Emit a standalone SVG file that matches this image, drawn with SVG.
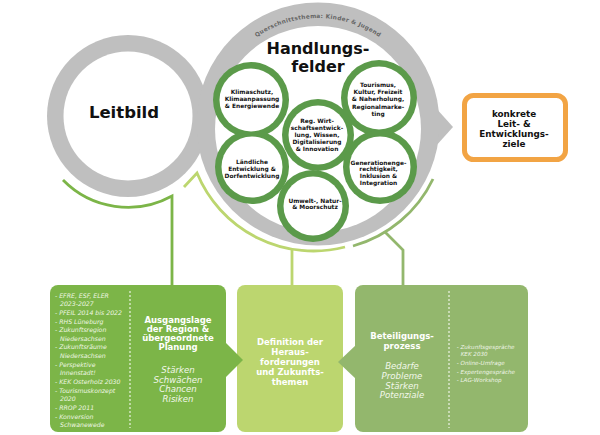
<svg xmlns="http://www.w3.org/2000/svg" width="600" height="435" viewBox="0 0 600 435">
<style>
.gray{fill:#bfbfbf}
.white{fill:#ffffff}
.ring{fill:#5b9a4a}
.ct{font-family:"DejaVu Sans",Verdana,sans-serif;font-weight:bold;font-size:5.9px;fill:#111;text-anchor:middle}
.big{font-family:"DejaVu Sans",Verdana,sans-serif;font-weight:bold;fill:#111;text-anchor:middle}
.bt{font-family:"DejaVu Sans",Verdana,sans-serif;font-weight:bold;font-size:8.5px;fill:#ffffff;text-anchor:middle}
.it{font-family:"DejaVu Sans",Verdana,sans-serif;font-style:italic;font-size:8.6px;fill:#f2f7ea;text-anchor:middle}
.ls{font-family:"DejaVu Sans",Verdana,sans-serif;font-style:italic;font-size:6.2px;fill:#eef6e2}
.rs{font-family:"DejaVu Sans",Verdana,sans-serif;font-style:italic;font-size:5.6px;fill:#eef4e6}
.dash{stroke:#ffffff;stroke-width:1;stroke-dasharray:2 2;fill:none}
.con{fill:none;stroke-width:2.8;stroke-linecap:butt;stroke-linejoin:miter}
</style>
<defs>
<path id="ringTextPath" d="M 210 126 A 108 108 0 0 1 426 126"/>
</defs>
<rect width="600" height="435" fill="#ffffff"/>

<g id="connectors">
<path class="con" stroke="#7cb548" d="M 63 180 A 91 91 0 0 0 172 196 L 172 286"/>
<path class="con" stroke="#bcd66f" d="M 184 187 L 197 173 A 126 126 0 0 0 345 247"/>
<path class="con" stroke="#bcd66f" d="M 292 249 L 292 286"/>
<path class="con" stroke="#93b76d" d="M 353 246 A 126 126 0 0 0 433 179"/>
<path class="con" stroke="#93b76d" d="M 385 232 L 403 250 L 403 286"/>
</g>

<g id="leitbild">
<circle class="gray" cx="128" cy="116" r="81"/>
<circle class="white" cx="128" cy="116" r="64.5"/>
<text class="big" x="124" y="117.5" font-size="16.5">Leitbild</text>
</g>

<g id="handlungsfelder">
<polygon class="gray" points="426,97 453,127 426,157"/>
<circle class="gray" cx="318" cy="124" r="121.5"/>
<circle class="white" cx="318" cy="129" r="103"/>
<text font-family="'DejaVu Sans',Verdana,sans-serif" font-weight="bold" font-size="5.8" fill="#666666" letter-spacing="0.3"><textPath href="#ringTextPath" startOffset="50%" text-anchor="middle">Querschnittsthema: Kinder &amp; Jugend</textPath></text>
<text class="big" x="318" y="53.5" font-size="16">Handlungs-</text>
<text class="big" x="318" y="71.5" font-size="16">felder</text>
</g>

<g id="circles-base">
<circle class="ring" cx="251" cy="100" r="38"/>
<circle class="ring" cx="379" cy="98" r="38"/>
<circle class="ring" cx="318" cy="135" r="36"/>
<circle class="ring" cx="252" cy="167" r="37"/>
<circle class="ring" cx="380" cy="167" r="37"/>
<circle class="ring" cx="313" cy="206" r="36"/>
</g>

<g id="hf-klimaschutz">
<circle class="white" cx="251" cy="100" r="31.5"/>
<text class="ct" x="252" y="93.7">Klimaschutz,</text>
<text class="ct" x="252" y="100.8">Klimaanpassung</text>
<text class="ct" x="252" y="107.9">&amp; Energiewende</text>
</g>
<g id="hf-tourismus">
<circle class="white" cx="379" cy="98" r="31.5"/>
<text class="ct" x="378" y="87.2">Tourismus,</text>
<text class="ct" x="378" y="94.3">Kultur, Freizeit</text>
<text class="ct" x="378" y="101.4">&amp; Naherholung,</text>
<text class="ct" x="378" y="108.5">Regionalmarke-</text>
<text class="ct" x="378" y="115.6">ting</text>
</g>
<g id="hf-wirtschaft">
<circle class="white" cx="318" cy="135" r="29.5"/>
<text class="ct" x="317" y="122.7">Reg. Wirt-</text>
<text class="ct" x="317" y="129.7">schaftsentwick-</text>
<text class="ct" x="317" y="136.7">lung, Wissen,</text>
<text class="ct" x="317" y="143.7">Digitalisierung</text>
<text class="ct" x="317" y="150.7">&amp; Innovation</text>
</g>
<g id="hf-laendlich">
<circle class="white" cx="252" cy="167" r="30.5"/>
<text class="ct" x="252" y="164.3">Ländliche</text>
<text class="ct" x="252" y="171.1">Entwicklung &amp;</text>
<text class="ct" x="252" y="177.9">Dorfentwicklung</text>
</g>
<g id="hf-generationen">
<circle class="white" cx="380" cy="167" r="30.5"/>
<text class="ct" x="378.5" y="164.7">Generationenge-</text>
<text class="ct" x="378.5" y="171.4">rechtigkeit,</text>
<text class="ct" x="378.5" y="178.1">Inklusion &amp;</text>
<text class="ct" x="378.5" y="184.8">Integration</text>
</g>
<g id="hf-umwelt">
<circle class="white" cx="313" cy="206" r="29.5"/>
<text class="ct" x="315" y="202.5">Umwelt-, Natur-</text>
<text class="ct" x="315" y="209.3">&amp; Moorschutz</text>
</g>

<g id="ziele">
<rect x="464.5" y="95.5" width="101" height="64" rx="9" fill="#ffffff" stroke="#f2a444" stroke-width="5"/>
<text class="big" x="514" y="116.5" font-size="8.8">konkrete</text>
<text class="big" x="514" y="126.5" font-size="8.8">Leit- &amp;</text>
<text class="big" x="514" y="136.5" font-size="8.8">Entwicklungs-</text>
<text class="big" x="514" y="146.5" font-size="8.8">ziele</text>
</g>

<g id="definition">
<rect x="237" y="285" width="106" height="147" rx="8" fill="#bcd66f"/>
<text class="bt" x="290" y="344.7">Definition der</text>
<text class="bt" x="290" y="354.7">Heraus-</text>
<text class="bt" x="290" y="364.7">forderungen</text>
<text class="bt" x="290" y="374.7">und Zukunfts-</text>
<text class="bt" x="290" y="384.7">themen</text>
</g>

<g id="ausgangslage">
<rect x="50" y="285" width="176" height="147" rx="8" fill="#7cb548"/>
<polygon points="224,341 243,360 224,379" fill="#7cb548"/>
<line class="dash" x1="130" y1="291" x2="130" y2="428"/>
<text class="ls" x="55" y="297.5">- EFRE, ESF, ELER</text>
<text class="ls" x="60" y="306.2">2023-2027</text>
<text class="ls" x="55" y="314.8">- PFEIL 2014 bis 2022</text>
<text class="ls" x="55" y="323.5">- RHS Lüneburg</text>
<text class="ls" x="55" y="332.1">- Zukunftsregion</text>
<text class="ls" x="60" y="340.8">Niedersachsen</text>
<text class="ls" x="55" y="349.4">- Zukunftsräume</text>
<text class="ls" x="60" y="358.1">Niedersachsen</text>
<text class="ls" x="55" y="366.7">- Perspektive</text>
<text class="ls" x="60" y="375.4">Innenstadt!</text>
<text class="ls" x="55" y="384">- KEK Osterholz 2030</text>
<text class="ls" x="55" y="392.7">- Tourismuskonzept</text>
<text class="ls" x="60" y="401.3">2020</text>
<text class="ls" x="55" y="410">- RROP 2011</text>
<text class="ls" x="55" y="418.6">- Konversion</text>
<text class="ls" x="60" y="427.3">Schwanewede</text>
<text class="bt" x="178" y="323">Ausgangslage</text>
<text class="bt" x="178" y="332">der Region &amp;</text>
<text class="bt" x="178" y="341">übergeordnete</text>
<text class="bt" x="178" y="350">Planung</text>
<text class="it" x="178" y="373">Stärken</text>
<text class="it" x="178" y="382.5">Schwächen</text>
<text class="it" x="178" y="392">Chancen</text>
<text class="it" x="178" y="401.5">Risiken</text>
</g>

<g id="beteiligung">
<rect x="355" y="285" width="173" height="147" rx="8" fill="#93b76d"/>
<polygon points="356,345 338,362 356,379" fill="#93b76d"/>
<line class="dash" x1="449" y1="291" x2="449" y2="428"/>
<text class="bt" x="402" y="339">Beteiligungs-</text>
<text class="bt" x="402" y="348.7">prozess</text>
<text class="it" x="402" y="369" font-size="8.8px">Bedarfe</text>
<text class="it" x="402" y="378.8" font-size="8.8px">Probleme</text>
<text class="it" x="402" y="388.6" font-size="8.8px">Stärken</text>
<text class="it" x="402" y="398.4" font-size="8.8px">Potenziale</text>
<text class="rs" x="456.7" y="348.7">- Zukunftsgespräche</text>
<text class="rs" x="460.7" y="356">KEK 2030</text>
<text class="rs" x="456.7" y="365.3">- Online-Umfrage</text>
<text class="rs" x="456.7" y="373.7">- Expertengespräche</text>
<text class="rs" x="456.7" y="382">- LAG-Workshop</text>
</g>
</svg>
